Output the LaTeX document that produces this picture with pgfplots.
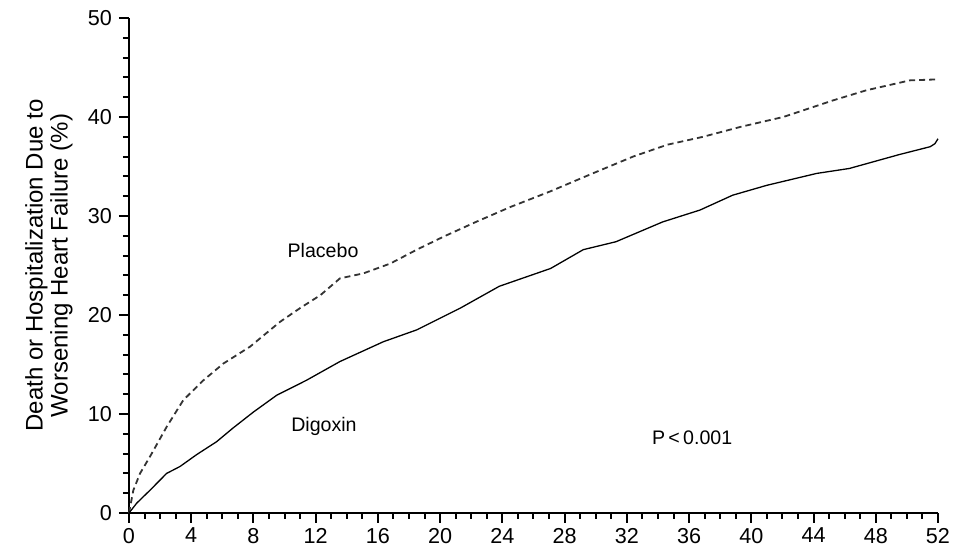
\documentclass[border=0pt]{standalone}
\usepackage{fontspec}
\setmainfont{Liberation Sans}
\usepackage{pgfplots}
\pgfplotsset{compat=1.18}

\begin{document}
\begin{tikzpicture}
\begin{axis}[
    scale only axis,
    width=404.5pt,
    height=247.5pt,
    xmin=0, xmax=52,
    ymin=0, ymax=50,
    xtick={0,4,...,52},
    ytick={0,10,...,50},
    minor x tick num=3,
    minor y tick num=4,
    axis lines=left,
    axis line style={-, line width=1.2pt},
    tick align=outside,
    tick style={black, line width=1pt},
    major tick length=5pt,
    minor tick length=3pt,
    xtick pos=bottom,
    ytick pos=left,
    tick label style={font=\fontsize{10.8}{12}\selectfont},
    /pgf/number format/assume math mode=true,
    xticklabel style={yshift=1pt},
    ylabel={Death or Hospitalization Due to\\Worsening Heart Failure (\%)},
    ylabel style={at={(axis description cs:-0.099,0.5)}, anchor=center,
        align=center, font=\fontsize{12}{12.5}\selectfont},
    clip=false,
]
% Placebo
\addplot[black!80, line width=0.9pt, dash pattern=on 3pt off 2pt] coordinates {
    (0,0) (0.28,2.3) (0.71,4.0) (1.35,5.7) (2.42,8.7) (3.49,11.4) (4.78,13.4)
    (6.07,15.1) (7.78,16.8) (9.7,19.3) (11,20.7) (12.3,22.0) (13.56,23.7)
    (15.06,24.2) (16.8,25.2) (18.5,26.6) (20.2,27.9) (22.3,29.4) (24.5,30.9)
    (27.1,32.5) (29.8,34.3) (32.4,36.0) (34.6,37.2) (36.9,38.0) (39.3,39.0)
    (42.05,40.0) (45.3,41.7) (47.4,42.7) (50.2,43.7) (52,43.8)
};
% Digoxin
\addplot[black, line width=0.65pt] coordinates {
    (0,0) (0.5,1.0) (1.35,2.3) (2.42,4.0) (3.28,4.7) (4.35,5.9) (5.63,7.2)
    (6.7,8.6) (8.0,10.2) (9.5,11.9) (11.4,13.4) (13.56,15.3) (16.35,17.3)
    (18.5,18.5) (21.3,20.7) (23.8,22.9) (27.1,24.7) (29.2,26.6) (31.3,27.4)
    (34.3,29.4) (36.7,30.6) (38.8,32.1) (41.0,33.1) (44.2,34.3) (46.3,34.8)
    (49.5,36.2) (51.5,37.0) (51.8,37.3) (52,37.8)
};
\node[font=\fontsize{9.8}{11}\selectfont] at (axis cs:12.47,26.5) {Placebo};
\node[font=\fontsize{9.8}{11}\selectfont] at (axis cs:12.53,8.7) {Digoxin};
\node[font=\fontsize{9.8}{11}\selectfont] at (axis cs:36.2,7.6) {P\,<\,0.001};
\end{axis}
\pgfresetboundingbox
\path[use as bounding box] (-64.5pt,-16pt) rectangle (425.5pt,256.5pt);
\end{tikzpicture}
\end{document}
